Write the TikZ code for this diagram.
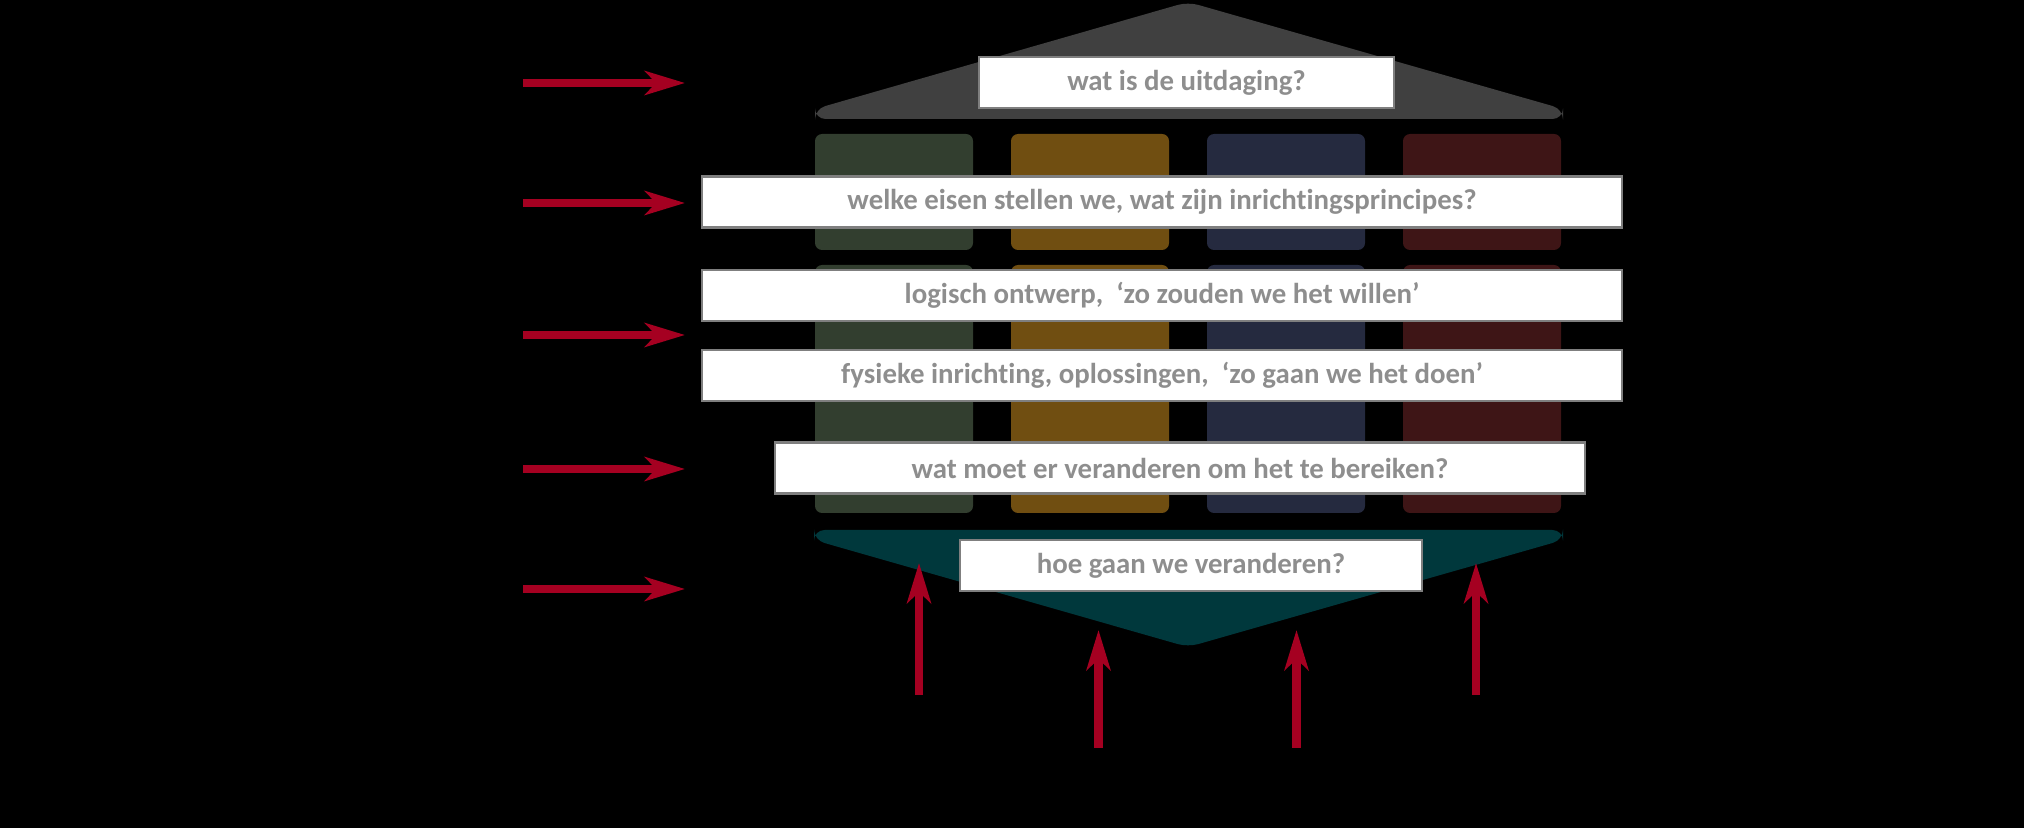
\documentclass[tikz,border=0pt]{standalone}
\usepackage{fontspec}
\setmainfont{Carlito}[Ligatures=NoCommon]
\usetikzlibrary{arrows.meta}

\definecolor{roofgrey}{HTML}{404040}
\definecolor{colgreen}{HTML}{323E2F}
\definecolor{colbrown}{HTML}{704E11}
\definecolor{colnavy}{HTML}{252A3F}
\definecolor{colred}{HTML}{3E1516}
\definecolor{funnelteal}{HTML}{00383C}
\definecolor{arrowred}{HTML}{A50021}
\definecolor{textgrey}{HTML}{8E8E8E}
\definecolor{boxborder}{HTML}{7F7F7F}

\tikzset{
  question/.style={draw=boxborder, line width=0.6pt, fill=white, inner sep=0pt,
    minimum height=0.51cm, text=textgrey, font=\fontsize{8.2}{10}\selectfont\bfseries},
  redarrow/.style={draw=arrowred, line width=2.3pt,
    -{Stealth[length=11.4pt, width=6.8pt, inset=3.2pt]}},
}

\begin{document}
\begin{tikzpicture}[x=0.01cm, y=-0.01cm]
    % background
	\fill[black] (0,0) rectangle (2024,828);
    % roof and foundation
	\fill[roofgrey, rounded corners=3pt] (815,119) -- (815,109) -- (1188,2)
		-- (1563,109) -- (1563,119) -- cycle;
	\fill[funnelteal, rounded corners=3pt] (814,530) -- (1563,530) -- (1563,540)
		-- (1188,647) -- (814,540) -- cycle;
    % columns
        \foreach \c [count=\i from 0, evaluate={\xl=815+196*\i; \xr=\xl+158;}] in {colgreen, colbrown, colnavy, colred} {
		\fill[\c, rounded corners=2pt] (\xl,134) rectangle (\xr,250);
		\fill[\c, rounded corners=2pt] (\xl,265) rectangle (\xr,513);
        };

    % questions
	\node[question, minimum width=4.15cm] (challenge) at (1186.5,82.5) {wat is de uitdaging?};
	\node[question, minimum width=9.2cm] (demands) at (1162,202) {welke eisen stellen we, wat zijn inrichtingsprincipes?};
	\node[question, minimum width=9.2cm] (logical) at (1162,295.5) {logisch ontwerp,\ \ ‘zo zouden we het willen’};
	\node[question, minimum width=9.2cm] (physical) at (1162,375.5) {fysieke inrichting, oplossingen,\ \ ‘zo gaan we het doen’};
	\node[question, minimum width=8.1cm] (change) at (1180,468) {wat moet er veranderen om het te bereiken?};
	\node[question, minimum width=4.62cm] (how) at (1191,565.5) {hoe gaan we veranderen?};

    % arrows from the left
        \foreach \y [count=\n] in {83, 203, 335, 469, 589} {
		\coordinate (left\n) at (523,\y);
		\coordinate (lefttip\n) at (685,\y);
		\draw[redarrow] (left\n) -- (lefttip\n);
        };
    % arrows from below
        \foreach \x/\b/\t [count=\n] in {919/695/563, 1098.5/748/630, 1296.5/748/630, 1476/695/563} {
		\coordinate (low\n) at (\x,\b);
		\coordinate (uptip\n) at (\x,\t);
		\draw[redarrow] (low\n) -- (uptip\n);
        };
\end{tikzpicture}
\end{document}
